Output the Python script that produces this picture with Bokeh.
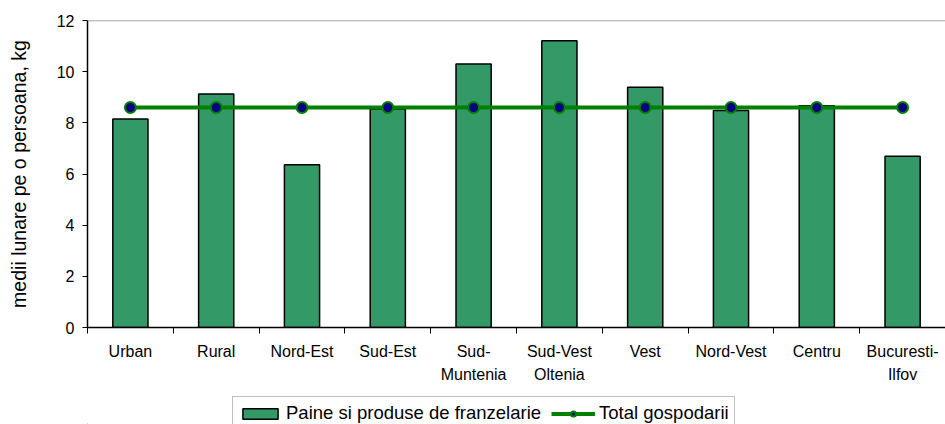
from bokeh.plotting import figure
from bokeh.layouts import column
from bokeh.models import Range1d, FixedTicker, Legend, LegendItem, Span, ColumnDataSource
from bokeh.embed import file_html
from bokeh.resources import INLINE

categories = ["Urban", "Rural", "Nord-Est", "Sud-Est", "Sud-\nMuntenia", "Sud-Vest\nOltenia",
              "Vest", "Nord-Vest", "Centru", "Bucuresti-\nIlfov"]
paine = [8.15, 9.13, 6.36, 8.54, 10.30, 11.21, 9.39, 8.48, 8.67, 6.69]
total = [8.6] * 10
y_ticks = [0, 2, 4, 6, 8, 10, 12]
series_names = ["Paine si produse de franzelarie", "Total gospodarii"]

FONT = "Liberation Sans"
BAR_FILL = "#339966"
LINE_COL = "#008000"
MARK_FILL = "#000080"

xs = [i + 0.5 for i in range(len(categories))]
src = ColumnDataSource(dict(x=xs, paine=paine, total=total))

p = figure(width=945, height=390, output_backend="svg", toolbar_location=None,
           x_range=Range1d(0, len(categories)), y_range=Range1d(0, 12),
           min_border_left=87, min_border_right=0, min_border_top=20,
           min_border_bottom=63)
p.outline_line_color = None
p.xgrid.visible = False
p.ygrid.visible = False

p.vbar(x="x", top="paine", width=0.41, source=src,
       fill_color=BAR_FILL, line_color="black", line_width=1.5)
p.line(x="x", y="total", source=src, line_color=LINE_COL, line_width=4)
p.scatter(x="x", y="total", source=src, size=11, fill_color=MARK_FILL,
          line_color=LINE_COL, line_width=2)

p.add_layout(Span(location=12, dimension="width", line_color="#888888", line_width=1.5))

# x axis
p.xaxis.ticker = FixedTicker(ticks=xs, minor_ticks=list(range(len(categories) + 1)))
p.xaxis.major_label_overrides = {x: c for x, c in zip(xs, categories)}
p.xaxis.major_tick_out = 0
p.xaxis.major_tick_in = 0
p.xaxis.minor_tick_out = 6
p.xaxis.minor_tick_in = 0
p.xaxis.minor_tick_line_color = "black"
p.xaxis.axis_line_color = "black"
p.xaxis.axis_line_width = 1.5
p.xaxis.major_label_text_font = FONT
p.xaxis.major_label_text_font_size = "16px"
p.xaxis.major_label_text_line_height = 1.4
p.xaxis.major_label_text_color = "black"
p.xaxis.major_label_standoff = 9

# y axis
p.yaxis.ticker = FixedTicker(ticks=y_ticks)
p.yaxis.minor_tick_line_color = None
p.yaxis.major_tick_out = 5
p.yaxis.major_tick_in = 0
p.yaxis.major_tick_line_color = "black"
p.yaxis.axis_line_color = "black"
p.yaxis.axis_line_width = 1.5
p.yaxis.major_label_text_font = FONT
p.yaxis.major_label_text_font_size = "16px"
p.yaxis.major_label_text_color = "black"
p.yaxis.major_label_standoff = 8
p.yaxis.axis_label = "medii lunare pe o persoana, kg"
p.yaxis.axis_label_text_font = FONT
p.yaxis.axis_label_text_font_style = "normal"
p.yaxis.axis_label_text_font_size = "19.5px"
p.yaxis.axis_label_text_color = "black"
p.yaxis.axis_label_standoff = 24

# legend strip below the chart (sample glyphs kept far outside the visible range)
lg = figure(width=945, height=34, output_backend="svg", toolbar_location=None,
            x_range=Range1d(0, 1), y_range=Range1d(0, 1),
            min_border_left=0, min_border_right=0, min_border_top=0, min_border_bottom=0)
lg.axis.visible = False
lg.xgrid.visible = False
lg.ygrid.visible = False
lg.outline_line_color = None
hidden = ColumnDataSource(dict(x=[-1000, -1001], y=[-1000, -1000]))
d_bar = lg.vbar(x="x", top="y", bottom="y", width=0.4, source=hidden,
                fill_color=BAR_FILL, line_color="black", line_width=1.5)
d_line = lg.line(x="x", y="y", source=hidden, line_color=LINE_COL, line_width=4)
d_mark = lg.scatter(x="x", y="y", source=hidden, size=11, fill_color=MARK_FILL,
                    line_color=LINE_COL, line_width=2)

legend = Legend(items=[LegendItem(label=series_names[0], renderers=[d_bar]),
                       LegendItem(label=series_names[1], renderers=[d_line, d_mark])],
                orientation="horizontal", location=(145, -6))
legend.label_text_font = FONT
legend.label_text_font_size = "18.5px"
legend.label_text_color = "black"
legend.glyph_width = 44
legend.glyph_height = 13
legend.spacing = 10
legend.padding = 5
legend.margin = 0
legend.label_standoff = 4
legend.border_line_color = "#808080"
legend.border_line_width = 1.5
lg.add_layout(legend)

layout = column(p, lg, spacing=0)
open("out.html", "w").write(file_html(layout, INLINE))
